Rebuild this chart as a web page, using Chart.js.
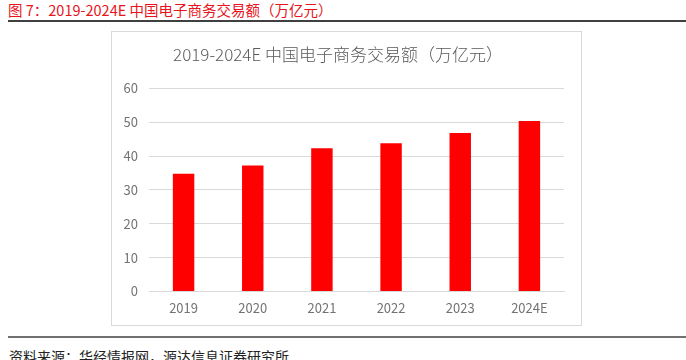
<!DOCTYPE html>
<html>
<head>
<meta charset="utf-8">
<script src="https://cdn.jsdelivr.net/npm/chart.js@4/dist/chart.umd.min.js"></script>
<style>
  html, body { margin: 0; padding: 0; background: #fff; width: 686px; height: 360px; overflow: hidden; position: relative; font-family: "Noto Sans CJK SC", sans-serif; }
  #pageTitle { position: absolute; left: 8px; top: 0px; font-size: 14.5px; line-height: 20px; color: #e8141c; white-space: nowrap; }
  #topLine { position: absolute; left: 8px; right: 0; top: 20px; height: 2px; background: #404040; }
  #box { position: absolute; left: 111px; top: 31px; width: 469px; height: 293px; border: 1px solid #d9d9d9; }
  #bottomLine { position: absolute; left: 8px; right: 0; top: 336px; height: 2px; background: #707070; }
  #source { position: absolute; left: 9px; top: 346px; font-size: 14px; line-height: 20px; color: #222; white-space: nowrap; }
</style>
</head>
<body>
<div id="pageTitle">图 7：2019-2024E 中国电子商务交易额（万亿元）</div>
<div id="topLine"></div>
<div id="box"><canvas id="c" width="469" height="293"></canvas></div>
<div id="bottomLine"></div>
<div id="source">资料来源：华经情报网，源达信息证券研究所</div>
<script>
const categories = ["2019", "2020", "2021", "2022", "2023", "2024E"];
const tradeValues = [34.8, 37.2, 42.3, 43.8, 46.8, 50.4];
const yTicks = [0, 10, 20, 30, 40, 50, 60];
const chartTitle = "2019-2024E 中国电子商务交易额（万亿元）";

new Chart(document.getElementById("c"), {
  type: "bar",
  data: {
    labels: categories,
    datasets: [{
      data: tradeValues,
      backgroundColor: "#ff0000",
      borderWidth: 0,
      categoryPercentage: 1,
      barPercentage: 0.31
    }]
  },
  options: {
    responsive: false,
    animation: false,
    layout: { padding: { left: 0, right: 17, top: 0, bottom: 0 } },
    plugins: {
      legend: { display: false },
      tooltip: { enabled: false },
      title: {
        display: true,
        text: chartTitle,
        color: "#595959",
        font: { family: "Noto Sans CJK SC", size: 17, weight: 300 },
        padding: { top: 12, bottom: 24 }
      }
    },
    scales: {
      x: {
        grid: { display: false, drawTicks: false },
        border: { display: true, color: "#d9d9d9", width: 1 },
        ticks: { color: "#737373", font: { family: "Noto Sans CJK SC", size: 13 }, padding: 9 }
      },
      y: {
        min: 0, max: 60,
        afterBuildTicks: (s) => { s.ticks = yTicks.map(v => ({ value: v })); },
        afterFit: (s) => { s.width = 37; },
        grid: { color: "#d9d9d9", lineWidth: 1, drawTicks: false },
        border: { display: false },
        ticks: { color: "#737373", font: { family: "Noto Sans CJK SC", size: 13 }, padding: 11 }
      }
    }
  }
});
</script>
</body>
</html>
